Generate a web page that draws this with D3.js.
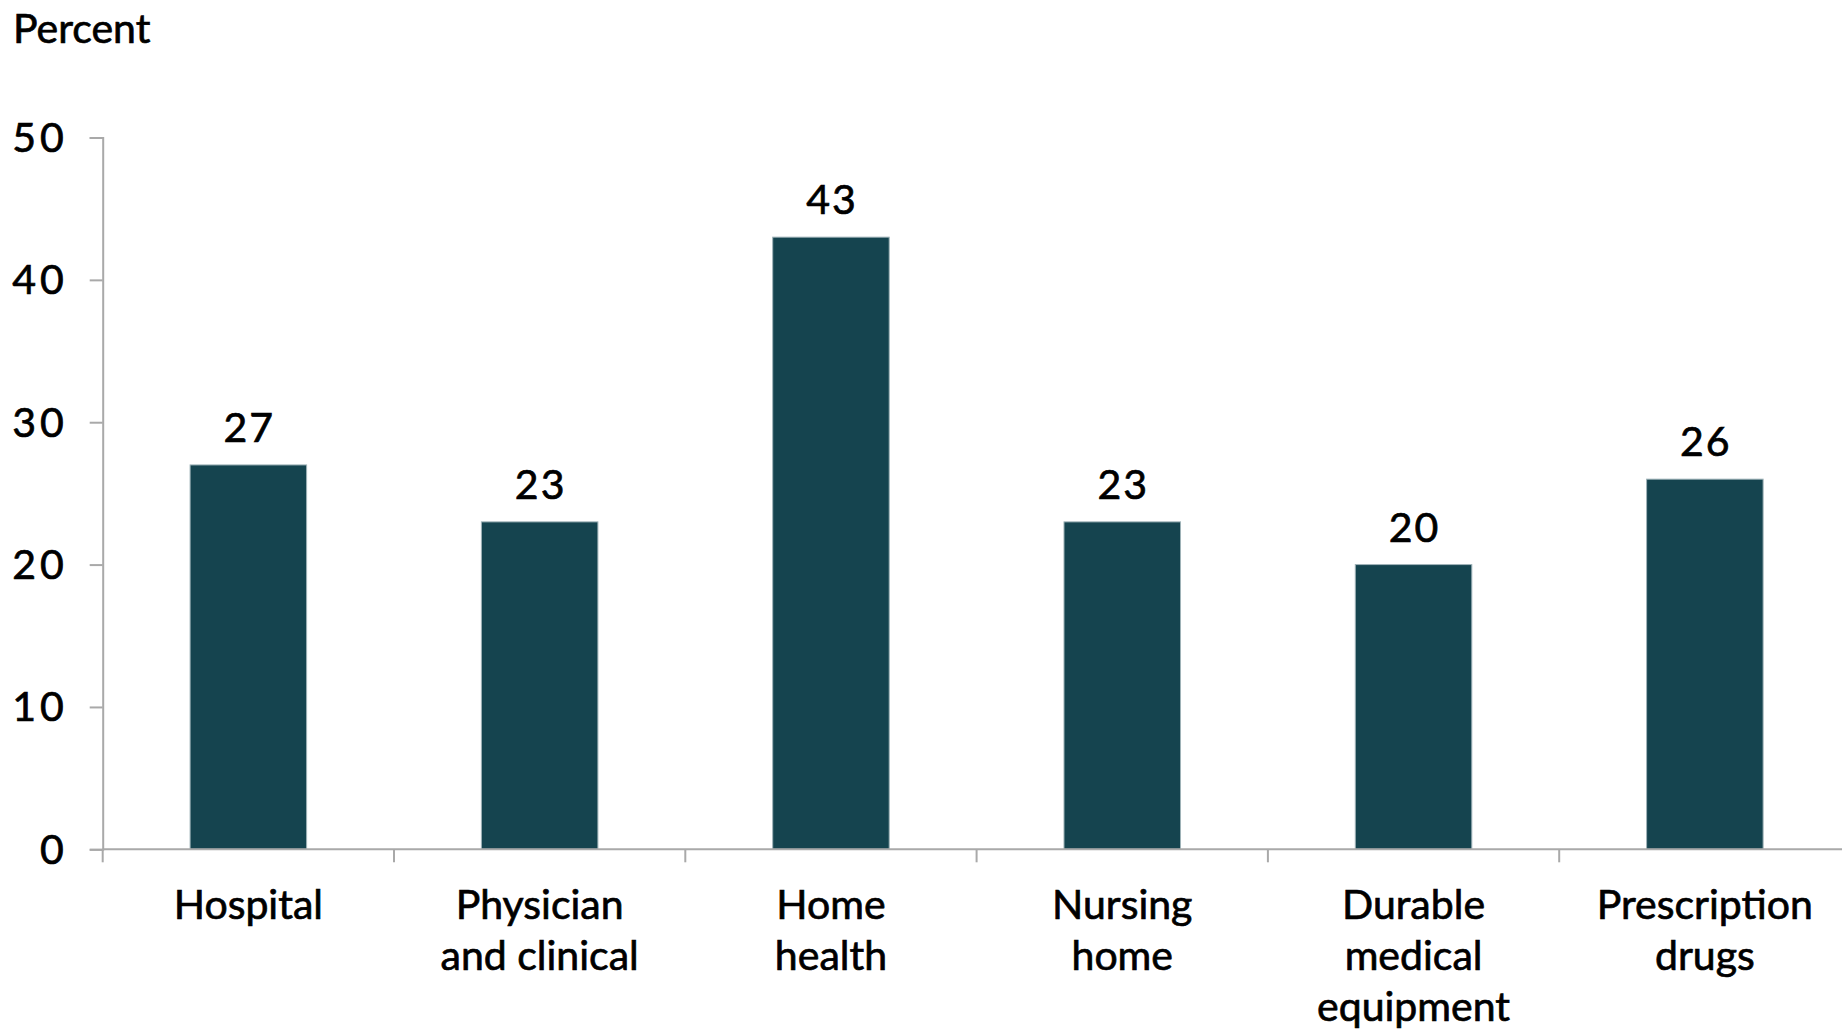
<!DOCTYPE html>
<html>
<head>
<meta charset="utf-8">
<script src="https://cdn.jsdelivr.net/npm/d3@7"></script>
<style>
  html, body { margin: 0; padding: 0; background: #fff; }
  svg { display: block; }
  text { font-family: Lato, "Open Sans", sans-serif; fill: #000; stroke: #000; stroke-width: 0.7px; }
</style>
</head>
<body>
<svg id="chart" width="1842" height="1031"></svg>
<script>
const categories = [
  ["Hospital"],
  ["Physician", "and clinical"],
  ["Home", "health"],
  ["Nursing", "home"],
  ["Durable", "medical", "equipment"],
  ["Prescription", "drugs"]
];
const values = [27, 23, 43, 23, 20, 26];
const yTicks = [0, 10, 20, 30, 40, 50];
const yAxisTitle = "Percent";

const svg = d3.select("#chart");
const plotLeft = 102.7, plotRight = 1850.5, plotTop = 137.5, plotBottom = 849.3;
const fontSize = 41;

const x = d3.scaleBand()
  .domain(d3.range(categories.length))
  .range([plotLeft, plotRight])
  .paddingInner(0.6)
  .paddingOuter(0.3);

const xb = d3.scaleBand().domain(d3.range(categories.length)).range([plotLeft, plotRight]);

const y = d3.scaleLinear().domain([0, 50]).range([plotBottom, plotTop]);

const axisColor = "#a9a9a9";

// y axis
const yAxis = svg.append("g")
  .attr("transform", `translate(${plotLeft},0)`)
  .call(d3.axisLeft(y).tickValues(yTicks).tickSize(13).tickPadding(22).tickSizeOuter(13));
yAxis.select(".domain").attr("stroke", axisColor).attr("stroke-width", 2);
yAxis.selectAll(".tick line").attr("stroke", axisColor).attr("stroke-width", 2);
yAxis.selectAll(".tick text")
  .attr("font-size", fontSize)
  .attr("font-family", "Lato, sans-serif")
  .attr("fill", "#000")
  .attr("letter-spacing", 4)
  .attr("dy", "0.34em");

// bars
svg.append("g").selectAll("rect")
  .data(values)
  .join("rect")
  .attr("x", (d, i) => x(i))
  .attr("y", d => y(d))
  .attr("width", x.bandwidth())
  .attr("height", d => y(0) - y(d))
  .attr("fill", "#15444f")
  .attr("stroke", "#9fb3b8")
  .attr("stroke-width", 1);

// x axis
const xAxisG = svg.append("g").attr("transform", `translate(0,${plotBottom})`);
xAxisG.append("line")
  .attr("x1", plotLeft).attr("x2", 1842)
  .attr("y1", 0).attr("y2", 0)
  .attr("stroke", axisColor).attr("stroke-width", 2);
xAxisG.selectAll("line.tk")
  .data(d3.range(categories.length + 1))
  .join("line")
  .attr("class", "tk")
  .attr("x1", i => plotLeft + i * xb.bandwidth())
  .attr("x2", i => plotLeft + i * xb.bandwidth())
  .attr("y1", 0).attr("y2", 13)
  .attr("stroke", axisColor).attr("stroke-width", 2);

// category labels
const labels = svg.append("g").selectAll("text")
  .data(categories)
  .join("text")
  .attr("text-anchor", "middle")
  .attr("font-size", fontSize)
  .attr("x", (d, i) => x(i) + x.bandwidth() / 2)
  .attr("y", 919);
labels.selectAll("tspan")
  .data(d => d)
  .join("tspan")
  .attr("x", function() { return d3.select(this.parentNode).attr("x"); })
  .attr("dy", (d, j) => j === 0 ? 0 : 51)
  .text(d => d);

// value labels
svg.append("g").selectAll("text")
  .data(values)
  .join("text")
  .attr("text-anchor", "middle")
  .attr("font-size", fontSize)
  .attr("letter-spacing", 2)
  .attr("x", (d, i) => x(i) + x.bandwidth() / 2 + 1)
  .attr("y", d => y(d) - 23)
  .text(d => d);

// axis title
svg.append("text")
  .attr("x", 13)
  .attr("y", 43)
  .attr("font-size", fontSize)
  .text(yAxisTitle);
</script>
</body>
</html>
